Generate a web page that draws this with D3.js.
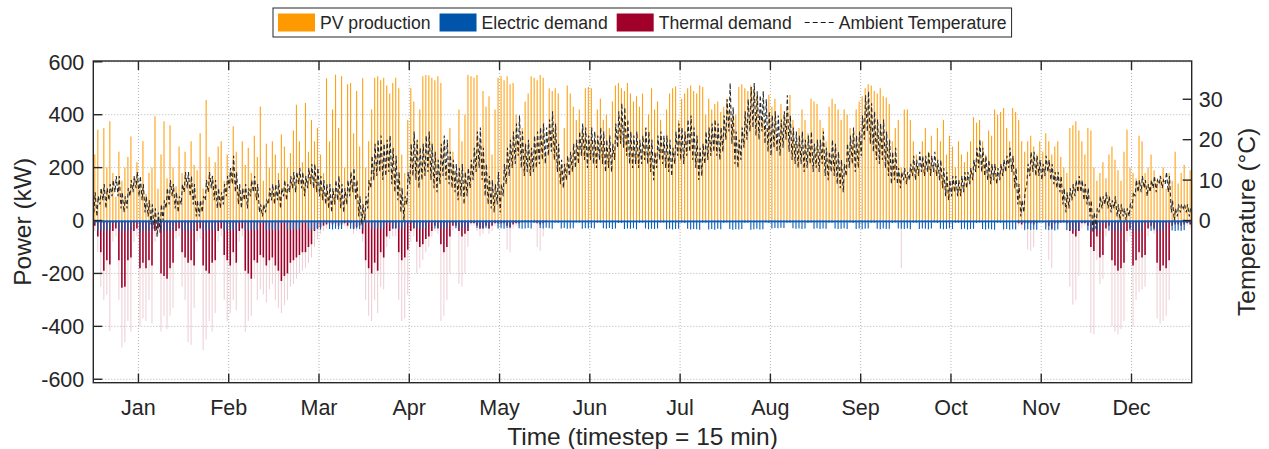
<!DOCTYPE html>
<html><head><meta charset="utf-8">
<script src="https://cdn.jsdelivr.net/npm/d3@7"></script>
<style>body{margin:0;background:#fff}svg{display:block}text{font-family:"Liberation Sans",Arial,Helvetica,sans-serif;fill:#262626}</style>
</head><body><svg id="c" width="1269" height="449"></svg>
<script>
// ---------------- DATA (daily values) ----------------
const monthLabels = ["Jan","Feb","Mar","Apr","May","Jun","Jul","Aug","Sep","Oct","Nov","Dec"];
const monthTickDays = [15,45,75,105,135,165,195,225,255,285,315,345];
const powerTicks = [-600,-400,-200,0,200,400,600];
const tempTicks = [0,10,20,30];
const legendLabels = ["PV production","Electric demand","Thermal demand","Ambient Temperature"];

// PV daily peak (kW)
const pv = [
250,343,120,350,200,375,180,90,260,150, 200,240,318,160,220,140,300,100,180,200,
394,120,250,375,160,360,200,130,280,180, 260,150,300,210,190,330,120,456,240,170,
220,280,300,150,250,190,356,260,120,300, 210,275,180,320,240,431,150,290,200,300,
250,180,325,280,200,255,340,438,300,220, 444,260,380,300,350,250,180,538,300,420,
551,350,545,200,515,520,330,490,280,538, 200,300,420,540,545,530,540,510,480,520,
540,500,250,180,380,500,450,300,420,545, 550,548,540,530,545,520,300,200,350,260,
180,420,300,400,550,545,540,550,300,490, 430,470,250,420,540,545,530,545,515,520,
400,300,350,450,480,545,540,530,550,540, 250,500,490,500,480,200,350,510,480,430,
380,420,350,500,505,500,300,420,460,380, 400,350,450,510,520,500,490,520,480,450,
470,430,480,350,400,500,420,450,380,300, 420,480,500,507,380,460,480,500,510,490,
480,510,505,400,460,420,440,450,410,430, 460,420,390,400,505,515,500,490,510,495,
470,400,380,350,475,430,460,310,440,400, 420,475,380,300,350,420,380,330,460,450,
440,380,350,300,430,460,440,420,380,420, 400,350,330,420,450,470,500,515,510,490,
480,500,470,465,440,300,350,380,200,420, 420,380,300,250,200,300,350,260,320,200,
350,300,380,250,320,280,200,300,250,220, 260,300,390,370,380,300,250,340,320,420,
400,410,425,350,300,425,410,380,300,260, 300,320,280,250,300,260,330,300,250,280,
300,240,200,180,350,360,375,340,300,250, 350,340,200,150,180,220,160,250,280,230,
190,150,260,343,200,180,160,320,300,180, 200,250,190,150,170,200,120,180,150,260,
140,180,210,150,190];

// Electric demand daily peak (kW, drawn downwards)
const elec = [
8,38,40,36,42,35,10, 9,40,37,41,38,36,8, 7,42,39,37,40,35,9, 8,36,41,38,39,37,10,
9,39,36,40,37,38,8, 8,37,40,35,38,36,9, 7,38,36,39,35,37,8, 9,36,38,34,37,35,10,
8,35,37,36,34,36,8, 7,34,36,33,35,32,9, 8,33,35,34,32,34,8, 9,32,34,31,33,32,7,
8,31,33,30,32,31,9, 7,30,32,29,31,30,8, 8,31,29,32,30,28,7, 9,28,30,31,29,30,8,
7,30,28,29,31,28,9, 8,29,31,28,30,29,7, 9,28,30,29,27,30,8, 8,30,29,31,28,29,7,
7,29,31,30,28,30,9, 8,28,30,27,29,31,8, 9,30,28,31,30,29,7, 7,31,29,30,28,30,8,
8,29,31,28,32,30,9, 9,32,30,31,29,33,8, 8,30,33,31,32,30,7, 7,33,31,34,32,31,8,
9,31,34,32,33,35,8, 8,34,32,35,31,33,9, 7,32,35,33,34,32,8, 8,35,33,31,34,33,7,
9,30,28,29,27,28,8, 8,29,31,30,32,30,9, 7,31,29,32,30,31,8, 8,30,32,31,29,32,7,
9,32,30,33,31,30,8, 8,31,33,30,32,31,9, 7,30,31,32,30,33,8, 8,32,30,31,33,30,7,
9,31,33,32,30,32,8, 8,33,31,34,32,31,9, 7,32,34,31,33,35,8, 8,34,32,35,33,34,7,
9,35,33,36,34,35,8, 8,34,36,35,37,34,9, 7,36,35,38,36,37,8, 8,37,39,36,38,37,9,
9,38,36,39,37,40,8, 8,36,39,37,40,38,9, 7,39,37,40,38,36,8, 8,37,40,38,39,37,9,
8];
const elecBase = 7;

// Thermal demand, first heating season (days 0-150): sustained level and short peak (kW)
const thermalBaseSpring = [
20,60,120,190,150,166,40,30,150,254, 250,150,140,40,30,180,160,180,150,170,
40,30,200,210,220,180,160,40,30,120, 140,160,150,170,40,30,170,190,200,160,
150,40,30,130,150,170,120,160,40,30, 190,200,220,150,160,130,140,170,150,140,
170,190,229,210,200,160,150,140,130,120, 120,100,90,40,30,25,20,15,10,15,
10,20,15,10,20,10,30,25,20,50, 150,180,200,160,190,120,140,60,40,30,
30,120,150,140,110,40,30,80,100,90, 70,60,40,20,30,90,120,100,60,20,
20,40,60,50,40,10,10,20,30,30, 20,30,20,10,10,10,10,20,25,15,
10,10,5,5,5,5,5,10,15,10,5];
const thermalPeakSpring = [
40,120,250,300,280,418,80,60,300,480, 460,380,420,80,60,400,370,380,300,390,
80,60,420,360,410,360,330,70,60,250, 300,460,470,330,80,70,490,450,380,420,
350,80,60,300,380,350,300,340,80,60, 420,380,360,220,300,260,280,310,260,240,
300,330,350,320,300,250,240,220,200,190, 180,160,140,100,70,50,40,30,20,30,
20,30,25,20,30,20,50,40,35,80, 300,360,380,300,350,250,260,100,70,60,
60,300,380,370,280,80,60,200,180,150, 120,100,60,40,50,380,360,300,200,40,
30,240,250,200,100,20,20,40,60,50, 30,50,40,20,20,20,20,110,120,30,
20,20,10,10,10,10,10,100,115,60,10];
// single late-summer event (day 268)
const thermalEventDay = 268, thermalEventPeak = 180;
// second heating season (days 300-364)
const thermalBaseAutumn = [
0,0,0,0,0,0,0,10,15,10, 10,10,15,10,0,0,0,20,30,10,
10,5,5,10,40,50,60,40,10,10, 20,100,115,60,140,130,30,20,150,170,
190,180,160,40,30,170,150,120,140,130, 30,20,30,160,190,170,180,150,20,15,
15,20,15,10,15];
const thermalPeakAutumn = [
0,0,0,0,0,0,0,20,30,40, 110,115,100,30,0,0,20,150,180,40,
20,10,10,40,250,318,300,210,30,20, 40,425,430,150,240,220,60,40,400,420,
430,410,380,80,60,400,300,270,260,250, 60,40,50,370,390,380,360,300,40,30,
30,40,30,20,30];

// Ambient temperature daily minimum / maximum (°C)
const tMin = [
2,1,4,5,3,5,6,7,6,3, 2,3,6,7,8,6,5,2,1,-1, -2,-4,-3,0,3,4,6,3,2,4,
7,8,6,4,1,1,2,5,7,8, 5,3,3,4,6,8,9,7,4,3, 5,3,6,7,5,2,1,2,4,5,
4,5,3,6,5,7,8,7,9,8, 6,8,9,8,7,6,5,4,3,2, 4,5,3,2,4,6,7,5,1,-1,
0,3,8,10,11,12,10,11,12,9, 7,5,2,0,4,9,11,10,8,10, 11,12,10,8,7,9,11,10,9,8,
7,5,6,4,6,8,10,12,13,10, 6,4,3,2,4,2,6,9,11,13, 14,16,13,11,12,11,12,13,14,15,
14,16,17,15,12,9,8,10,11,12, 13,14,16,15,13,15,14,13,15,14, 12,13,12,15,18,19,18,16,14,13,
14,13,14,15,14,12,10,13,15,14, 13,12,11,14,16,15,14,16,17,15, 13,10,11,14,15,16,17,16,15,17,
20,22,19,14,13,15,18,20,22,23, 21,20,22,19,17,16,18,17,16,18, 20,17,15,14,13,14,12,13,14,12,
13,12,14,11,10,12,11,9,8,7, 11,13,14,12,13,16,20,22,19,17, 15,14,15,13,11,9,10,9,8,10,
9,10,11,10,11,12,11,12,11,12, 11,10,8,6,5,6,7,6,6,7, 8,9,10,12,13,12,11,10,9,10,
9,10,11,12,13,12,8,4,1,2, 9,11,12,11,11,10,11,12,10,9, 8,7,4,2,3,5,6,7,7,5,
4,1,-3,-2,2,3,4,3,2,3, 1,0,1,0,1,3,6,7,7,8, 6,7,8,7,9,8,9,7,2,0,
1,2,3,2,1];
const tMax = [
7,6,8,9,8,9,10,11,11,7, 6,8,10,11,12,11,9,6,5,4, 3,2,4,5,8,10,9,7,6,9,
12,12,11,9,5,5,6,10,12,11, 10,8,7,9,11,13,16,12,9,8, 9,8,10,11,9,4,4,5,8,9,
9,10,8,10,9,11,12,12,13,12, 11,13,14,14,13,11,10,9,9,8, 10,11,9,8,10,12,13,10,6,4,
6,10,16,19,20,21,19,20,21,18, 16,12,8,6,12,19,22,20,18,19, 21,22,19,17,15,19,21,20,17,15,
14,13,14,12,13,15,18,22,23,18, 14,11,10,9,12,9,14,18,20,22, 24,26,22,19,20,18,21,22,23,24,
23,25,27,24,19,15,14,16,17,19, 20,22,24,23,21,23,22,21,23,22, 20,21,19,24,27,29,28,25,22,21,
22,20,21,23,22,20,17,21,22,21, 21,20,18,22,24,23,22,25,26,23, 21,18,19,22,23,24,25,24,23,26,
30,34,28,22,20,23,27,30,33,34, 32,31,32,30,27,26,27,26,25,27, 31,26,23,22,21,22,20,21,22,19,
20,20,22,18,17,20,19,17,15,14, 19,21,23,21,22,26,31,32,29,27, 25,24,25,22,20,17,18,13,12,13,
12,14,16,15,17,16,16,17,16,17, 15,15,13,12,10,11,11,10,11,12, 12,13,15,18,20,18,16,15,14,14,
13,14,15,16,18,16,13,9,5,7, 14,17,17,16,15,14,16,15,14,12, 12,11,8,7,8,9,10,11,10,9,
8,5,2,3,6,6,7,6,5,6, 4,4,3,3,4,7,10,10,11,10, 9,10,11,10,11,10,12,11,5,3,
4,4,4,4,3];

// ---------------- BUILD ----------------
const NDAYS = 365, SPD = 96; // 15-min timesteps per day
const thermalBase = new Array(NDAYS).fill(0), thermalPeak = new Array(NDAYS).fill(0);
thermalBaseSpring.forEach((v,i)=>{thermalBase[i]=v; thermalPeak[i]=thermalPeakSpring[i];});
thermalBaseAutumn.forEach((v,i)=>{thermalBase[300+i]=v; thermalPeak[300+i]=thermalPeakAutumn[i];});
thermalPeak[thermalEventDay] = thermalEventPeak;
const days = d3.range(NDAYS);

const COL_PV="#FF9900", COL_EL="#0B5FB8", COL_TH="#A0002A", COL_AX="#262626";
const svg = d3.select("#c");
const L=93.3, R=1191.7, T=61, B=382.7;
const x = d3.scaleLinear().domain([0, NDAYS*SPD]).range([L,R]);
const y = d3.scaleLinear().domain([-613,603]).range([B,T]);
const kWperC = 15.28;
const yT = d3.scaleLinear().domain([-613/kWperC, 603/kWperC]).range([B,T]);

svg.append("defs").append("clipPath").attr("id","clip")
  .append("rect").attr("x",L).attr("y",T).attr("width",R-L).attr("height",B-T);

// grid
const grid = svg.append("g").attr("stroke","#b4b4b4").attr("stroke-width",1).attr("stroke-dasharray","1,2");
monthTickDays.forEach(d=>grid.append("line").attr("x1",x(d*SPD)).attr("x2",x(d*SPD)).attr("y1",T).attr("y2",B));
powerTicks.forEach(v=>grid.append("line").attr("x1",L).attr("x2",R).attr("y1",y(v)).attr("y2",y(v)));

const plot = svg.append("g").attr("clip-path","url(#clip)");
const noon = d => x(d*SPD + SPD/2);

// PV
plot.append("g").attr("stroke",COL_PV).attr("stroke-width",1.1).attr("stroke-opacity",0.92)
  .selectAll("line").data(days).join("line")
  .attr("x1",noon).attr("x2",noon).attr("y1",y(0)).attr("y2",d=>y(pv[d]));

// thermal light peaks
plot.append("g").attr("stroke",COL_TH).attr("stroke-opacity",0.2).attr("stroke-width",1)
  .selectAll("line").data(days.filter(d=>thermalPeak[d]>0)).join("line")
  .attr("x1",noon).attr("x2",noon).attr("y1",d=>y(-thermalBase[d])).attr("y2",d=>y(-thermalPeak[d]));
// thermal sustained
plot.append("g").attr("stroke",COL_TH).attr("stroke-width",1.6)
  .selectAll("line").data(days.filter(d=>thermalBase[d]>0)).join("line")
  .attr("x1",noon).attr("x2",noon).attr("y1",y(0)).attr("y2",d=>y(-thermalBase[d]));

// electric
plot.append("rect").attr("x",x(0)).attr("width",x(NDAYS*SPD)-x(0))
  .attr("y",y(0)).attr("height",y(-elecBase)-y(0)).attr("fill",COL_EL);
plot.append("g").attr("stroke",COL_EL).attr("stroke-width",1.1)
  .selectAll("line").data(days).join("line")
  .attr("x1",noon).attr("x2",noon).attr("y1",y(0)).attr("y2",d=>y(-elec[d]));

// temperature
const tempPts = [];
days.forEach(d=>{ tempPts.push([d*SPD+20, tMin[d]]); tempPts.push([d*SPD+60, tMax[d]]); });
plot.append("path").datum(tempPts)
  .attr("d", d3.line().x(p=>x(p[0])).y(p=>yT(p[1])))
  .attr("fill","none").attr("stroke","#2a2a2a").attr("stroke-width",1.1).attr("stroke-dasharray","4,2.5");

// box + ticks
svg.append("rect").attr("x",L).attr("y",T).attr("width",R-L).attr("height",B-T)
  .attr("fill","none").attr("stroke",COL_AX).attr("stroke-width",1.4);
const tk = svg.append("g").attr("stroke",COL_AX).attr("stroke-width",1.4);
const TL=9;
powerTicks.forEach(v=>tk.append("line").attr("x1",L).attr("x2",L+TL).attr("y1",y(v)).attr("y2",y(v)));
tempTicks.forEach(v=>tk.append("line").attr("x1",R-TL).attr("x2",R).attr("y1",yT(v)).attr("y2",yT(v)));
monthTickDays.forEach(d=>{
  tk.append("line").attr("x1",x(d*SPD)).attr("x2",x(d*SPD)).attr("y1",B).attr("y2",B-TL);
  tk.append("line").attr("x1",x(d*SPD)).attr("x2",x(d*SPD)).attr("y1",T).attr("y2",T+TL);
});

const fs = 21.5;
powerTicks.forEach(v=>svg.append("text").attr("x",L-9).attr("y",y(v)).attr("dy","0.36em")
  .attr("text-anchor","end").attr("font-size",fs).text(v));
tempTicks.forEach(v=>svg.append("text").attr("x",R+7).attr("y",yT(v)).attr("dy","0.36em")
  .attr("text-anchor","start").attr("font-size",fs).text(v));
monthTickDays.forEach((d,i)=>svg.append("text").attr("x",x(d*SPD)).attr("y",415)
  .attr("text-anchor","middle").attr("font-size",fs).text(monthLabels[i]));

svg.append("text").attr("x",(L+R)/2).attr("y",445).attr("text-anchor","middle")
  .attr("font-size",24.5).text("Time (timestep = 15 min)");
svg.append("text").attr("transform",`translate(31,${(T+B)/2}) rotate(-90)`).attr("text-anchor","middle")
  .attr("font-size",24.5).text("Power (kW)");
svg.append("text").attr("transform",`translate(1255,${(T+B)/2}) rotate(-90)`).attr("text-anchor","middle")
  .attr("font-size",24.5).text("Temperature (°C)");

// legend
const lg = svg.append("g");
const box = lg.append("rect").attr("x",273).attr("y",8).attr("height",29).attr("fill","#fff").attr("stroke",COL_AX).attr("stroke-width",1);
let cx = 278; const cy = 22.5;
const swatchCols = [COL_PV, "#0055AA", COL_TH, null];
legendLabels.forEach((lab,i)=>{
  if (swatchCols[i]) {
    lg.append("rect").attr("x",cx).attr("y",cy-9).attr("width",37).attr("height",18).attr("fill",swatchCols[i]);
    cx += 42;
  } else {
    lg.append("line").attr("x1",cx+4).attr("x2",cx+36).attr("y1",cy).attr("y2",cy)
      .attr("stroke","#1a1a1a").attr("stroke-width",1.2).attr("stroke-dasharray","5,3");
    cx += 38;
  }
  const t = lg.append("text").attr("x",cx).attr("y",cy).attr("dy","0.36em").attr("font-size",17.6).text(lab);
  cx += t.node().getComputedTextLength() + 9;
});
box.attr("width", cx - 4 - 273);
</script></body></html>
